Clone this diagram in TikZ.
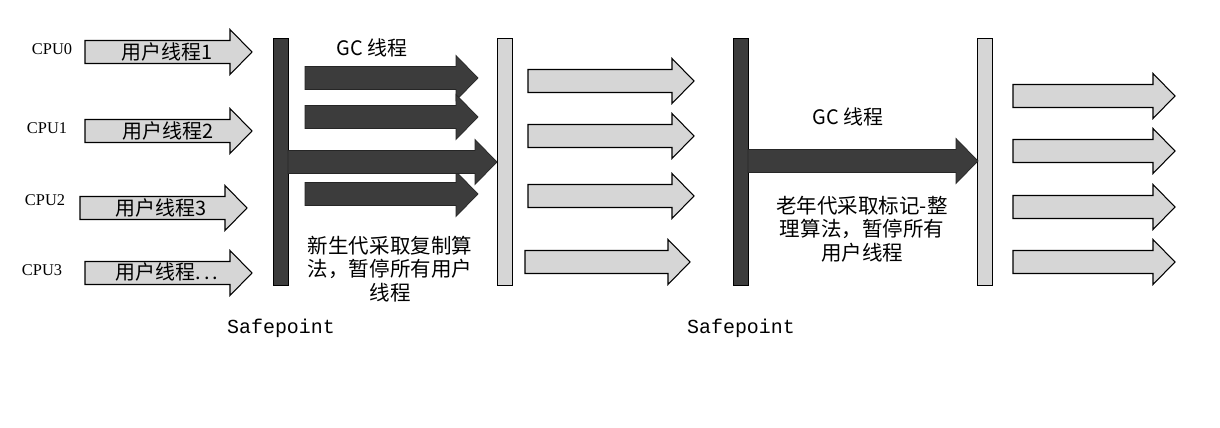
\documentclass[tikz,border=0pt]{standalone}
\usepackage{fontspec}
\newfontfamily\cjk{Noto Sans CJK SC}
\newfontfamily\cpufont{Liberation Serif}
\newfontfamily\spfont{Liberation Mono}
\usetikzlibrary{positioning}

\definecolor{gcgray}{HTML}{3C3C3C}
\definecolor{usergray}{HTML}{D6D6D6}

% block arrow: style, x start, x tip, y middle
\newcommand{\blockarrow}[4]{%
  \draw[#1] (#2,#4-11.5) -- (#3-22,#4-11.5) -- (#3-22,#4-22.5) -- (#3,#4)
    -- (#3-22,#4+22.5) -- (#3-22,#4+11.5) -- (#2,#4+11.5) -- cycle;}

\tikzset{
  cpulabel/.style={font=\cpufont\fontsize{14}{16}\selectfont, inner sep=0pt},
  threadtext/.style={font=\cjk\fontsize{17}{19}\selectfont, inner sep=0pt},
  notetext/.style={font=\cjk\fontsize{17.5}{20}\selectfont, align=center, inner sep=0pt},
  sptext/.style={font=\spfont\fontsize{17}{20}\selectfont, inner sep=0pt},
  darkbar/.style={draw=black, fill=gcgray, line width=0.6pt, minimum width=0.45cm, minimum height=7.41cm, inner sep=0pt},
  lightbar/.style={draw=black, fill=usergray, line width=0.8pt, minimum width=0.45cm, minimum height=7.41cm, inner sep=0pt},
  gcarrow/.style={fill=gcgray, draw=black!85, line width=0.6pt},
  userarrow/.style={fill=usergray, draw=black, line width=0.9pt}
}

\begin{document}
\begin{tikzpicture}[x=0.03cm,y=-0.03cm]
    \useasboundingbox (0,0) rectangle (1220,428);

    % Safepoint bars
    \node[darkbar]  (sp1)  at (280.5,161.5) {};
    \node[lightbar] (res1) at (505,161.5) {};
    \node[darkbar]  (sp2)  at (740.5,161.5) {};
    \node[lightbar] (res2) at (985,161.5) {};

    % CPUs and user threads
    \node[cpulabel] (cpu0) at (52,49)  {CPU0};
    \node[cpulabel] (cpu1) at (47,128) {CPU1};
    \node[cpulabel] (cpu2) at (45,200) {CPU2};
    \node[cpulabel] (cpu3) at (42,270) {CPU3};
    \blockarrow{userarrow}{85}{252}{52}
    \blockarrow{userarrow}{85}{252}{131}
    \blockarrow{userarrow}{80}{247}{208}
    \blockarrow{userarrow}{85}{252}{273}
    \node[threadtext] (ut0) at (167,52)  {用户线程1};
    \node[threadtext] (ut1) at (168,131) {用户线程2};
    \node[threadtext] (ut2) at (161,208) {用户线程3};
    \node[threadtext] (ut3) at (167,272) {用户线程.\,.\,.};

    % Let's draw the young GC!
    \node[threadtext] (gcyoung) at (372,48) {GC 线程};
    \foreach \y in {78,117,194}{
        \blockarrow{gcarrow}{305}{478}{\y}
    }
    \blockarrow{gcarrow}{288}{497}{162}
    \node[notetext] (youngnote) at (390,269) {新生代采取复制算\\法，暂停所有用户\\线程};

    % user threads again
    \foreach \y in {81,136,196}{
        \blockarrow{userarrow}{528}{694}{\y}
    }
    \blockarrow{userarrow}{525}{690}{262}

    % old GC
    \node[threadtext] (gcold) at (848,117) {GC 线程};
    \blockarrow{gcarrow}{748}{978}{161}
    \node[notetext] (oldnote) at (862,229) {老年代采取标记-整\\理算法，暂停所有\\用户线程};

    % user threads after old GC
    \foreach \y in {96,151,207,262}{
        \blockarrow{userarrow}{1013}{1175}{\y}
    }

    % Safepoint labels
    \node[sptext] (splabel1) at (281,328) {Safepoint};
    \node[sptext] (splabel2) at (741,328) {Safepoint};
\end{tikzpicture}
\end{document}
